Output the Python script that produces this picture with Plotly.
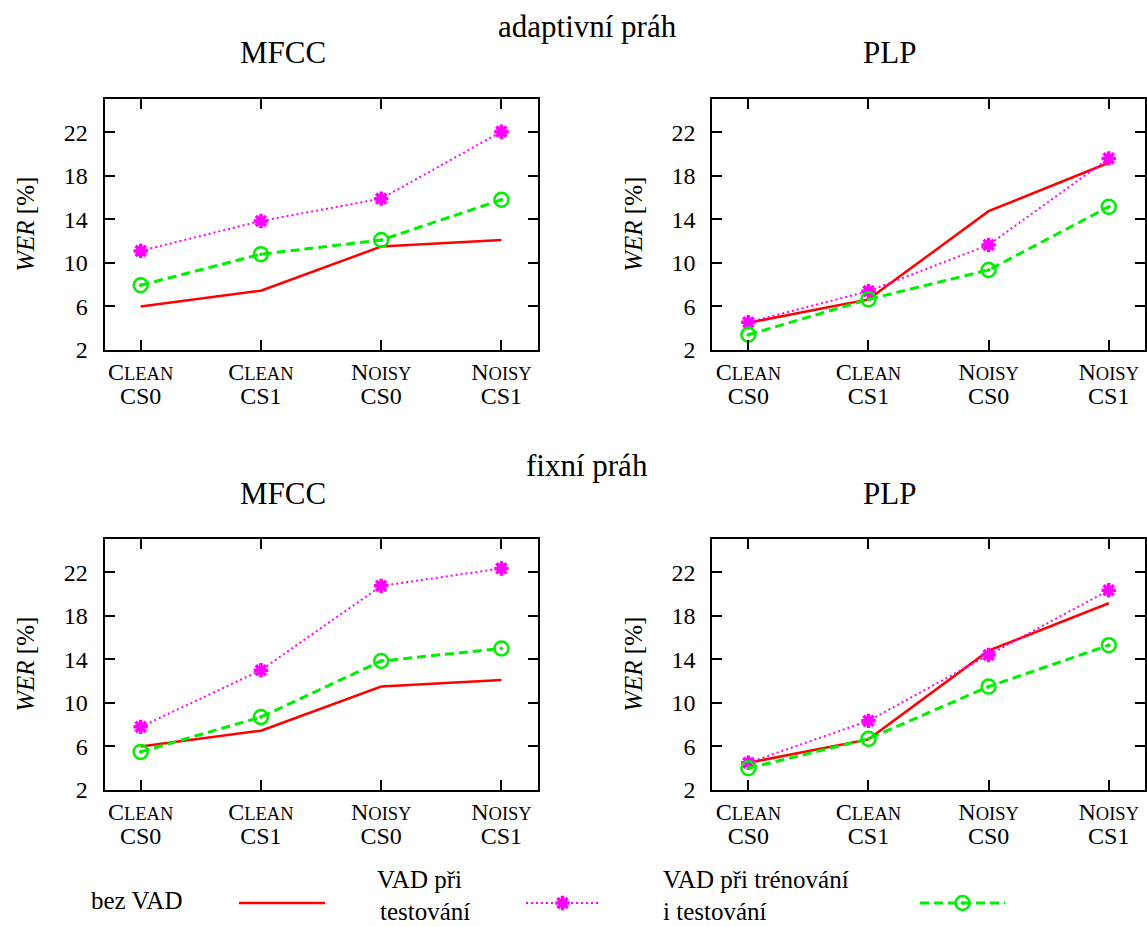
import plotly.graph_objects as go

# ---------------- data ----------------
categories = [0, 1, 2, 3]
cat_top = ["C", "C", "N", "N"]
cat_rest = ["LEAN", "LEAN", "OISY", "OISY"]
cat_cs = ["CS0", "CS1", "CS0", "CS1"]
y_ticks = [2, 6, 10, 14, 18, 22]

series_names = ["bez VAD", "VAD při testování", "VAD při trénování i testování"]

# adaptivní práh
mfcc_adapt_bez = [6.0, 7.45, 11.5, 12.1]
mfcc_adapt_test = [11.1, 13.85, 15.9, 22.05]
mfcc_adapt_train = [7.95, 10.8, 12.1, 15.8]
plp_adapt_bez = [4.5, 6.65, 14.75, 19.2]
plp_adapt_test = [4.55, 7.4, 11.65, 19.6]
plp_adapt_train = [3.4, 6.65, 9.35, 15.15]

# fixní práh
mfcc_fix_bez = [6.0, 7.45, 11.5, 12.1]
mfcc_fix_test = [7.8, 13.0, 20.75, 22.35]
mfcc_fix_train = [5.5, 8.7, 13.85, 15.0]
plp_fix_bez = [4.5, 6.65, 14.8, 19.15]
plp_fix_test = [4.5, 8.35, 14.4, 20.35]
plp_fix_train = [4.0, 6.7, 11.5, 15.3]

W, H = 1147, 927
FONT = "Liberation Serif"
RED, MAG, GRN = "#ff0000", "#ff00ff", "#00ee00"

panels = [
    ("x", "y", (104.6, 537.5), (98.5, 350), mfcc_adapt_bez, mfcc_adapt_test, mfcc_adapt_train),
    ("x2", "y2", (712.3, 1144.8), (98.5, 350), plp_adapt_bez, plp_adapt_test, plp_adapt_train),
    ("x3", "y3", (104.6, 537.5), (538.5, 790), mfcc_fix_bez, mfcc_fix_test, mfcc_fix_train),
    ("x4", "y4", (712.3, 1144.8), (538.5, 790), plp_fix_bez, plp_fix_test, plp_fix_train),
]

styles = [
    dict(line=dict(color=RED, width=2.5), mode="lines"),
    dict(line=dict(color=MAG, width=2, dash="2px,3px"), mode="lines+markers",
         marker=dict(symbol="asterisk-open", size=12, color=MAG, line=dict(color=MAG, width=3.5))),
    dict(line=dict(color=GRN, width=3, dash="9px,5px"), mode="lines+markers",
         marker=dict(symbol="circle-open-dot", size=14, color=GRN, line=dict(color=GRN, width=2.5))),
]

fig = go.Figure()

tick_text = [
    f"<span style='font-size:24px'>{a}</span>{b}<br><span style='font-size:24px'>{c}</span>"
    for a, b, c in zip(cat_top, cat_rest, cat_cs)
]

layout = dict(
    width=W, height=H, margin=dict(l=0, r=0, t=0, b=0, autoexpand=False),
    paper_bgcolor="white", plot_bgcolor="rgba(0,0,0,0)",
    showlegend=False, font=dict(family=FONT, color="black"),
)

for i, (xa, ya, xd, yd, s_bez, s_test, s_train) in enumerate(panels):
    for name, vals, st in zip(series_names, [s_bez, s_test, s_train], styles):
        fig.add_trace(go.Scatter(x=categories, y=vals, name=name, xaxis=xa, yaxis=ya,
                                 cliponaxis=False, **st))
    xkey = "xaxis" + xa[1:]
    ykey = "yaxis" + ya[1:]
    layout[xkey] = dict(
        domain=[xd[0] / W, xd[1] / W], anchor=ya, range=[-0.3, 3.3], automargin=False,
        tickvals=categories, ticktext=tick_text, tickfont=dict(size=18.5, family=FONT),
        ticks="inside", ticklen=10, tickwidth=1.5, tickcolor="black",
        showline=True, linecolor="black", linewidth=2, mirror="allticks",
        showgrid=False, zeroline=False, ticklabelstandoff=6,
    )
    layout[ykey] = dict(
        domain=[1 - yd[1] / H, 1 - yd[0] / H], anchor=xa, range=[2, 25.1], automargin=False,
        tickvals=y_ticks, tickfont=dict(size=24, family=FONT),
        ticks="inside", ticklen=10, tickwidth=1.5, tickcolor="black",
        showline=True, linecolor="black", linewidth=2, mirror="allticks",
        showgrid=False, zeroline=False, ticklabelstandoff=10,
        title=dict(text="<i>WER</i> [%]", font=dict(size=25, family=FONT), standoff=22),
    )

# legend strip: hidden axis in pixel units, only over the bottom strip
LEG_TOP = 860
layout["xaxis5"] = dict(domain=[0, 1], range=[0, W], visible=False, anchor="y5", automargin=False)
layout["yaxis5"] = dict(domain=[0, (H - LEG_TOP) / H], range=[H, LEG_TOP], visible=False,
                        anchor="x5", automargin=False)

legend_y = 903
legend_samples = [(239, 325), (526, 599), (920, 1005)]
for name, st, (x0, x1) in zip(series_names, styles, legend_samples):
    fig.add_trace(go.Scatter(x=[x0, x1], y=[legend_y, legend_y], xaxis="x5", yaxis="y5",
                             mode="lines", line=st["line"], hoverinfo="skip", cliponaxis=False))
    if "marker" in st:
        fig.add_trace(go.Scatter(x=[(x0 + x1) / 2], y=[legend_y], xaxis="x5", yaxis="y5",
                                 mode="markers", marker=st["marker"], hoverinfo="skip",
                                 cliponaxis=False))

annots = []
def txt(text, x, y, size, xanchor="center"):
    annots.append(dict(text=text, x=x / W, y=1 - y / H, xref="paper", yref="paper",
                       xanchor=xanchor, yanchor="middle", showarrow=False,
                       font=dict(size=size, family=FONT, color="black"), align="left"))

txt("adaptivní práh", 587, 27, 31)
txt("MFCC", 283, 52, 31)
txt("PLP", 890, 52, 31)
txt("fixní práh", 587, 466, 31)
txt("MFCC", 283, 493, 31)
txt("PLP", 890, 493, 31)

txt("bez VAD", 89, 900, 25, "left")
txt("VAD při", 375, 879, 25, "left")
txt("testování", 378, 911, 25, "left")
txt("VAD při trénování", 661, 879, 25, "left")
txt("i testování", 661, 911, 25, "left")

layout["annotations"] = annots
fig.update_layout(**layout)
fig.write_html(
    "out.html",
    config={"displayModeBar": False},
    post_script="document.body.style.margin='0';document.body.style.padding='0';",
)
